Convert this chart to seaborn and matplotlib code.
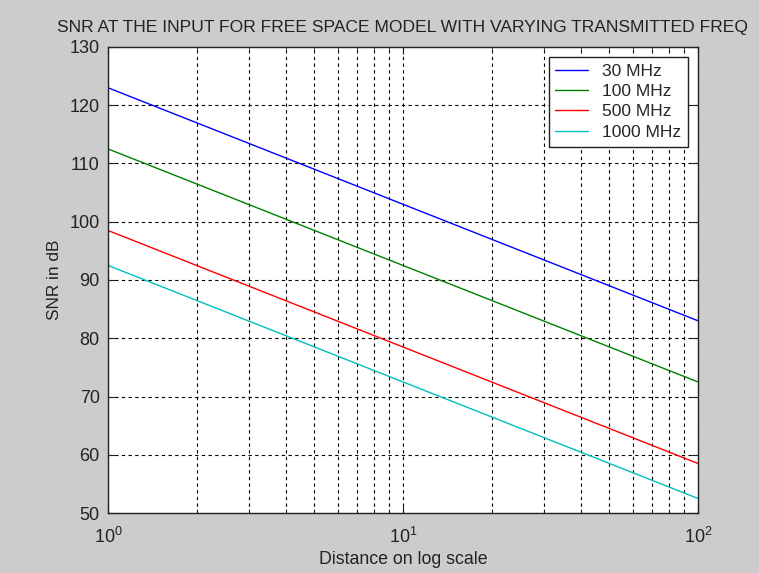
import matplotlib
matplotlib.use("Agg")
import matplotlib.pyplot as plt
import matplotlib.ticker as mticker
import seaborn as sns
import pandas as pd

distance = [1, 10, 100]
snr_30 = [123.0, 103.0, 83.0]
snr_100 = [112.5, 92.5, 72.5]
snr_500 = [98.5, 78.5, 58.5]
snr_1000 = [92.5, 72.5, 52.5]
labels = ["30 MHz", "100 MHz", "500 MHz", "1000 MHz"]
colors = ["#0000ff", "#008000", "#ff0000", "#00bfbf"]

rows = []
for lab, vals in zip(labels, [snr_30, snr_100, snr_500, snr_1000]):
    for d, v in zip(distance, vals):
        rows.append({"Distance": d, "SNR": v, "Freq": lab})
df = pd.DataFrame(rows)

sns.set_style("ticks")
plt.rcParams["font.family"] = ["Liberation Sans", "DejaVu Sans"]

fig = plt.figure(figsize=(7.59, 5.73), dpi=100)
fig.patch.set_facecolor("#cccccc")
ax = fig.add_axes([0.1423, 0.1047, 0.9196 - 0.1423, 0.918 - 0.1047])
ax.set_facecolor("white")

sns.lineplot(data=df, x="Distance", y="SNR", hue="Freq", palette=colors,
             hue_order=labels, ax=ax, linewidth=1.0, legend=True)

ax.set_xscale("log")
ax.set_xlim(1, 100)
ax.set_ylim(50, 130)
ax.set_yticks(range(50, 131, 10))
ax.xaxis.set_minor_locator(mticker.LogLocator(base=10, subs=range(2, 10)))
ax.xaxis.set_minor_formatter(mticker.NullFormatter())

gridkw = dict(color="black", linestyle=(0, (3, 3)), linewidth=0.8)
ax.grid(True, which="major", axis="both", **gridkw)
ax.grid(True, which="minor", axis="x", **gridkw)

ax.tick_params(which="both", direction="in", top=True, right=True,
               labelsize=13, colors="#222222")
ax.tick_params(which="major", length=5)
ax.tick_params(which="minor", length=3)
ax.tick_params(axis="x", which="major", pad=10)
ax.tick_params(axis="y", which="major", pad=6)
for s in ax.spines.values():
    s.set_color("#222222")
    s.set_linewidth(1.0)

ax.set_xlabel("Distance on log scale", fontsize=12.8, color="#222222", labelpad=3)
ax.set_ylabel("SNR in dB", fontsize=12.4, color="#222222", labelpad=5)
ax.set_title("SNR AT THE INPUT FOR FREE SPACE MODEL WITH VARYING TRANSMITTED FREQ",
             fontsize=12.6, color="#222222", pad=11)

leg = ax.legend(loc="upper right", fontsize=12.5, frameon=True, fancybox=False,
                borderaxespad=0.55, handlelength=1.9, handletextpad=0.8,
                labelspacing=0.3, borderpad=0.4)
leg.get_frame().set_edgecolor("#222222")
leg.get_frame().set_linewidth(1.0)
leg.get_frame().set_alpha(1)

fig.savefig("out.png", dpi=100, facecolor=fig.get_facecolor())
